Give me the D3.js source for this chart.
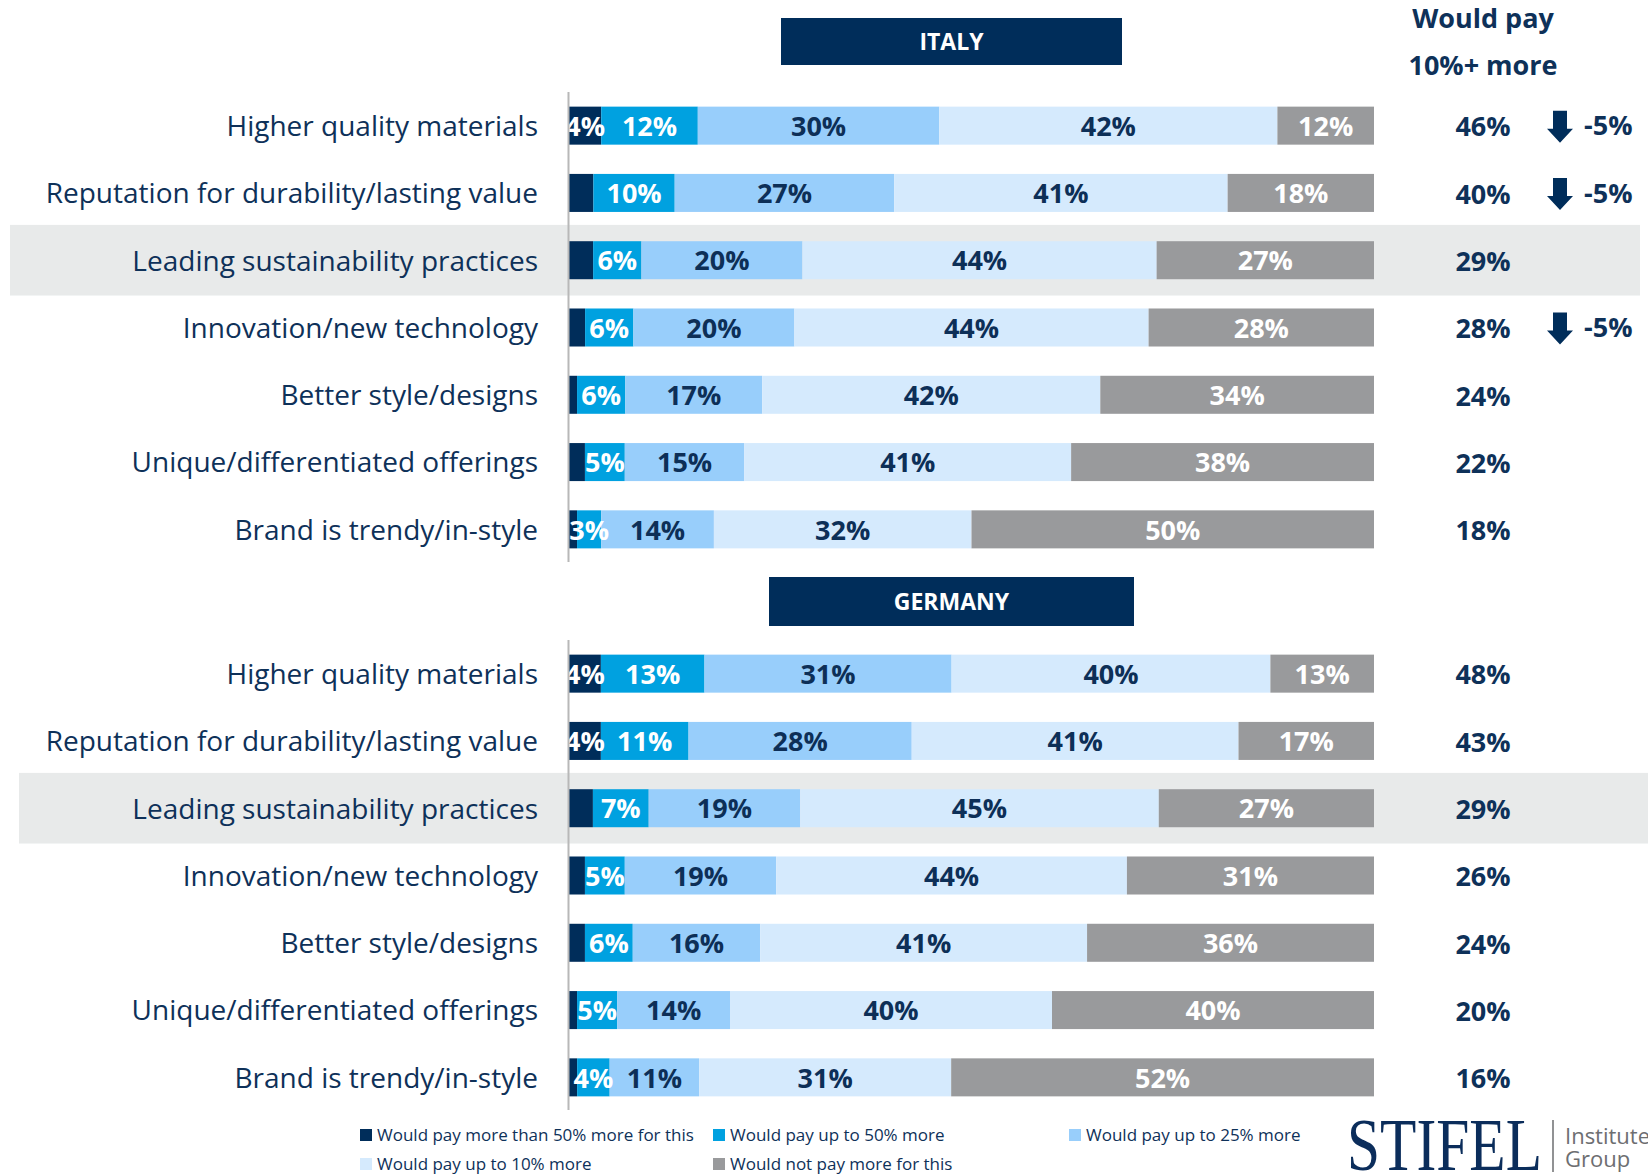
<!DOCTYPE html>
<html>
<head>
<meta charset="utf-8">
<script src="https://cdn.jsdelivr.net/npm/d3@7"></script>
<style>
  html, body { margin: 0; padding: 0; background: #fff; overflow: hidden; }
  svg { display: block; }
</style>
</head>
<body>
<svg id="chart" width="1648" height="1174"></svg>
<script>
// ---------------- DATA ----------------
const categories = [
  "Higher quality materials",
  "Reputation for durability/lasting value",
  "Leading sustainability practices",
  "Innovation/new technology",
  "Better style/designs",
  "Unique/differentiated offerings",
  "Brand is trendy/in-style"
];
const seriesNames = [
  "Would pay more than 50% more for this",
  "Would pay up to 50% more",
  "Would pay up to 25% more",
  "Would pay up to 10% more",
  "Would not pay more for this"
];
// Italy: one array per series, in category order
const italyMore50   = [4, 3, 3, 2, 1, 2, 1];
const italyUpTo50   = [12, 10, 6, 6, 6, 5, 3];
const italyUpTo25   = [30, 27, 20, 20, 17, 15, 14];
const italyUpTo10   = [42, 41, 44, 44, 42, 41, 32];
const italyNotPay   = [12, 18, 27, 28, 34, 38, 50];
const italyPay10Plus = [46, 40, 29, 28, 24, 22, 18];
const italyChange    = ["-5%", "-5%", null, "-5%", null, null, null];

// Germany
const germanyMore50  = [4, 4, 3, 2, 2, 1, 1];
const germanyUpTo50  = [13, 11, 7, 5, 6, 5, 4];
const germanyUpTo25  = [31, 28, 19, 19, 16, 14, 11];
const germanyUpTo10  = [40, 41, 45, 44, 41, 40, 31];
const germanyNotPay  = [13, 17, 27, 31, 36, 40, 52];
const germanyPay10Plus = [48, 43, 29, 26, 24, 20, 16];
const germanyChange    = [null, null, null, null, null, null, null];

const highlightCategory = "Leading sustainability practices";
const headerLines = ["Would pay", "10%+ more"];

// ---------------- STYLE ----------------
const colors = ["#002D5A", "#00A1E0", "#98CEFB", "#D5EAFD", "#999A9C"];
const labelColors = ["#ffffff", "#ffffff", "#0D2F57", "#0D2F57", "#ffffff"];
const labelMin = [4, 3, 3, 3, 3];   // smallest value that gets a label, per series
const navy = "#002D5A";
const textNavy = "#0E3159";
const FONT = "'Open Sans', 'Noto Sans', sans-serif";

const svg = d3.select("#chart");

const x0 = 569, x1 = 1374;

function buildRows(arrs) {
  return categories.map((c, i) => {
    const vals = arrs.map(a => a[i]);
    return { cat: c, vals };
  });
}

const panels = [
  {
    title: "ITALY",
    banner: [781, 18, 341, 47],
    yRange: [92, 563],
    band: [10, 1640],
    rows: buildRows([italyMore50, italyUpTo50, italyUpTo25, italyUpTo10, italyNotPay]),
    pay: italyPay10Plus,
    change: italyChange
  },
  {
    title: "GERMANY",
    banner: [769, 577, 365, 49],
    yRange: [640, 1111],
    band: [19, 1648],
    rows: buildRows([germanyMore50, germanyUpTo50, germanyUpTo25, germanyUpTo10, germanyNotPay]),
    pay: germanyPay10Plus,
    change: germanyChange
  }
];

// clip for labels at the axis
svg.append("defs").append("clipPath").attr("id", "plotclip")
  .append("rect").attr("x", x0).attr("y", 0).attr("width", x1 - x0 + 40).attr("height", 1174);

panels.forEach((p, pi) => {
  const g = svg.append("g");
  const y = d3.scaleBand().domain(categories).range(p.yRange)
    .paddingInner(0.435).paddingOuter(0.2175);
  const step = y.step();

  // highlight band
  g.append("rect")
    .attr("x", p.band[0]).attr("width", p.band[1] - p.band[0])
    .attr("y", y(highlightCategory) + y.bandwidth() / 2 - step * 0.525)
    .attr("height", step * 1.05)
    .attr("fill", "#E8EAEA");

  // banner
  g.append("rect")
    .attr("x", p.banner[0]).attr("y", p.banner[1])
    .attr("width", p.banner[2]).attr("height", p.banner[3])
    .attr("fill", navy);
  g.append("text")
    .attr("x", p.banner[0] + p.banner[2] / 2)
    .attr("y", p.banner[1] + p.banner[3] / 2)
    .attr("dy", "0.36em")
    .attr("text-anchor", "middle")
    .attr("font-family", FONT).attr("font-weight", 700).attr("font-size", 23)
    .attr("fill", "#fff")
    .text(p.title);

  // category labels
  g.selectAll("text.cat").data(p.rows).join("text")
    .attr("class", "cat")
    .attr("x", 538)
    .attr("y", d => y(d.cat) + y.bandwidth() / 2)
    .attr("dy", "0.37em")
    .attr("text-anchor", "end")
    .attr("font-family", FONT).attr("font-size", 28)
    .attr("fill", textNavy)
    .text(d => d.cat);

  // bars
  p.rows.forEach(r => {
    const total = d3.sum(r.vals);
    const x = d3.scaleLinear().domain([0, total]).range([x0, x1]);
    let acc = 0;
    const segs = r.vals.map((v, k) => {
      const s = { k, v, start: acc, end: acc + v };
      acc += v;
      return s;
    });
    const rg = g.append("g");
    rg.selectAll("rect").data(segs).join("rect")
      .attr("x", d => x(d.start))
      .attr("width", d => x(d.end) - x(d.start))
      .attr("y", y(r.cat))
      .attr("height", y.bandwidth())
      .attr("fill", d => colors[d.k]);
    rg.append("g").attr("clip-path", "url(#plotclip)")
      .selectAll("text").data(segs.filter(d => d.v >= labelMin[d.k])).join("text")
      .attr("x", d => (x(d.start) + x(d.end)) / 2)
      .attr("y", y(r.cat) + y.bandwidth() / 2)
      .attr("dy", "0.38em")
      .attr("text-anchor", "middle")
      .attr("font-family", FONT).attr("font-weight", 700).attr("font-size", 27)
      .attr("fill", d => labelColors[d.k])
      .text(d => d.v + "%");
  });

  // axis line
  g.append("line")
    .attr("x1", x0 - 0.5).attr("x2", x0 - 0.5)
    .attr("y1", p.yRange[0]).attr("y2", p.yRange[1] - 1)
    .attr("stroke", "#B8B8B8").attr("stroke-width", 2);

  // would pay 10%+ column
  g.selectAll("text.pay").data(p.pay).join("text")
    .attr("class", "pay")
    .attr("x", 1483)
    .attr("y", (d, i) => y(categories[i]) + y.bandwidth() / 2)
    .attr("dy", "0.4em")
    .attr("text-anchor", "middle")
    .attr("font-family", FONT).attr("font-weight", 700).attr("font-size", 27)
    .attr("fill", textNavy)
    .text(d => d + "%");

  // change arrows
  const ch = p.change.map((c, i) => ({ c, cat: categories[i] })).filter(d => d.c);
  ch.forEach(d => {
    const cy = y(d.cat) + y.bandwidth() / 2;
    const cx = 1560;
    g.append("path")
      .attr("d", `M${cx - 7},${cy - 15} L${cx + 7},${cy - 15} L${cx + 7},${cy + 3} L${cx + 13},${cy + 3} L${cx},${cy + 17} L${cx - 13},${cy + 3} L${cx - 7},${cy + 3} Z`)
      .attr("fill", navy);
    g.append("text")
      .attr("x", 1584).attr("y", cy).attr("dy", "0.36em")
      .attr("font-family", FONT).attr("font-weight", 700).attr("font-size", 27)
      .attr("fill", textNavy)
      .text(d.c);
  });
});

// header
svg.selectAll("text.hdr").data(headerLines).join("text")
  .attr("class", "hdr")
  .attr("x", 1483)
  .attr("y", (d, i) => 28 + i * 47)
  .attr("text-anchor", "middle")
  .attr("font-family", FONT).attr("font-weight", 700).attr("font-size", 27)
  .attr("fill", textNavy)
  .text(d => d);

// legend
const legendPos = [[360, 1141], [713, 1141], [1069, 1141], [360, 1170], [713, 1170]];
const lg = svg.append("g");
seriesNames.forEach((s, i) => {
  const [lx, ly] = legendPos[i];
  lg.append("rect").attr("x", lx).attr("y", ly - 12).attr("width", 12).attr("height", 12)
    .attr("fill", colors[i]);
  lg.append("text").attr("x", lx + 17).attr("y", ly)
    .attr("font-family", FONT).attr("font-size", 17)
    .attr("fill", textNavy)
    .text(s);
});

// logo
const logo = svg.append("g");
const stifel = logo.append("text")
  .attr("font-family", "'Liberation Serif', 'DejaVu Serif', serif")
  .attr("font-size", 74)
  .attr("fill", "#0B2D5B")
  .text("STIFEL");
const natW = stifel.node().getComputedTextLength() || 240;
stifel.attr("transform", `translate(1347,1170) scale(${195 / natW},1)`);
logo.append("line").attr("x1", 1553).attr("x2", 1553).attr("y1", 1120).attr("y2", 1172)
  .attr("stroke", "#6D6E71").attr("stroke-width", 1.5);
logo.append("text").attr("x", 1565).attr("y", 1144)
  .attr("font-family", FONT).attr("font-size", 22).attr("fill", "#6D6E71").text("Institute");
logo.append("text").attr("x", 1565).attr("y", 1167)
  .attr("font-family", FONT).attr("font-size", 22).attr("fill", "#6D6E71").text("Group");
</script>
</body>
</html>
